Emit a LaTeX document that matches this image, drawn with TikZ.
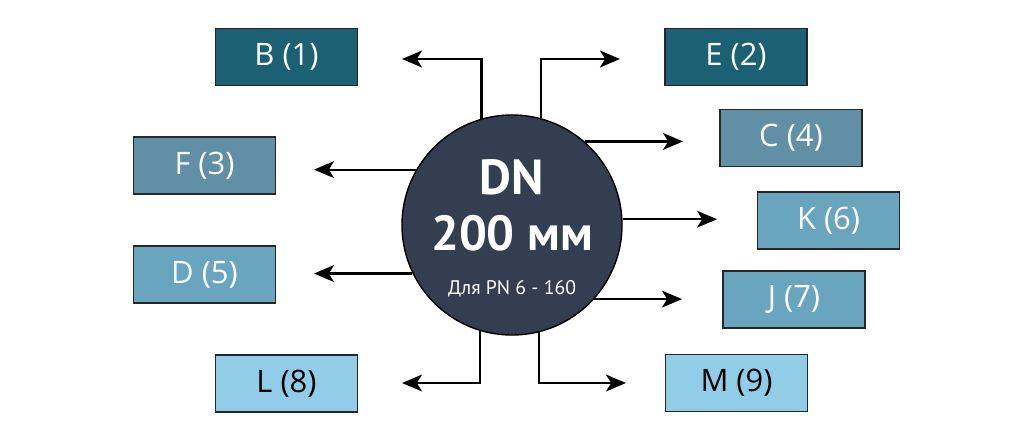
\documentclass[tikz,border=0pt]{standalone}
\usepackage{fontspec}
\setmainfont{Open Sans}
\newfontfamily\ptsans{PT Sans}
\usetikzlibrary{arrows.meta}
\definecolor{hubfill}{HTML}{333F50}
\definecolor{tealdark}{HTML}{1B6173}
\definecolor{tealmid}{HTML}{6190A6}
\definecolor{tealblue}{HTML}{69A5BF}
\definecolor{skyblue}{HTML}{91CDE7}
\begin{document}
\begin{tikzpicture}[x=0.025cm,y=-0.025cm]
   \tikzstyle{line} = [draw, line width=1.6pt, -{Stealth[length=5mm,width=4.2mm,inset=1.3mm]}]
   \tikzstyle{box} = [draw=black!85, line width=1pt, minimum width=3.55cm, minimum height=1.42cm, inner sep=0pt, font=\fontsize{22}{26}\selectfont]
   \useasboundingbox (0,0) rectangle (1024,441);

   \node (dn) [circle, draw=black, line width=1pt, fill=hubfill, minimum size=5.5cm, inner sep=0pt] at (512,225) {};
   \node (dntxt) [text=white, font=\ptsans\bfseries\fontsize{35}{40}\selectfont] at (512,177) {DN};
   \node (mmtxt) [text=white, font=\ptsans\bfseries\fontsize{35}{40}\selectfont] at (512,233) {200 мм};
   \node (pntxt) [text=white, font=\ptsans\fontsize{14}{17}\selectfont] at (512,289) {Для PN 6 - 160};

   \node (b) [box, fill=tealdark, text=white] at (286.5,57)  {B (1)};
   \node (e) [box, fill=tealdark, text=white] at (736,57)    {E (2)};
   \node (f) [box, fill=tealmid, text=white] at (204.5,165.5) {F (3)};
   \node (c) [box, fill=tealmid, text=white] at (791,138)    {C (4)};
   \node (d) [box, fill=tealblue, text=white] at (204.5,274.5) {D (5)};
   \node (k) [box, fill=tealblue, text=white] at (828.5,220.5) {K (6)};
   \node (j) [box, fill=tealblue, text=white] at (794,299.5) {J (7)};
   \node (l) [box, fill=skyblue, text=black] at (286.5,383.5) {L (8)};
   \node (m) [box, fill=skyblue, text=black] at (736.5,383)  {M (9)};

   \coordinate (btip) at (402,59);
   \coordinate (etip) at (620,59);
   \coordinate (ftip) at (314,171);
   \coordinate (ctip) at (683,142);
   \coordinate (ktip) at (717,219);
   \coordinate (dtip) at (314,274);
   \coordinate (jtip) at (682,299);
   \coordinate (ltip) at (402,383);
   \coordinate (mtip) at (626,383);

   \path [line] (dn.106.9) |- (btip);
   \path [line] (dn.75.8) |- (etip);
   \path [line] (dn.150.6) -- (dn.150.6 -| ftip);
   \path [line] (dn.49) -- (dn.49 -| ctip);
   \path [line] (dn.3) -- (dn.3 -| ktip);
   \path [line] (dn.206.5) -- (dn.206.5 -| dtip);
   \path [line] (dn.-42.3) -- (dn.-42.3 -| jtip);
   \path [line] (dn.253.1) |- (ltip);
   \path [line] (dn.284.2) |- (mtip);

 \end{tikzpicture}
\end{document}
